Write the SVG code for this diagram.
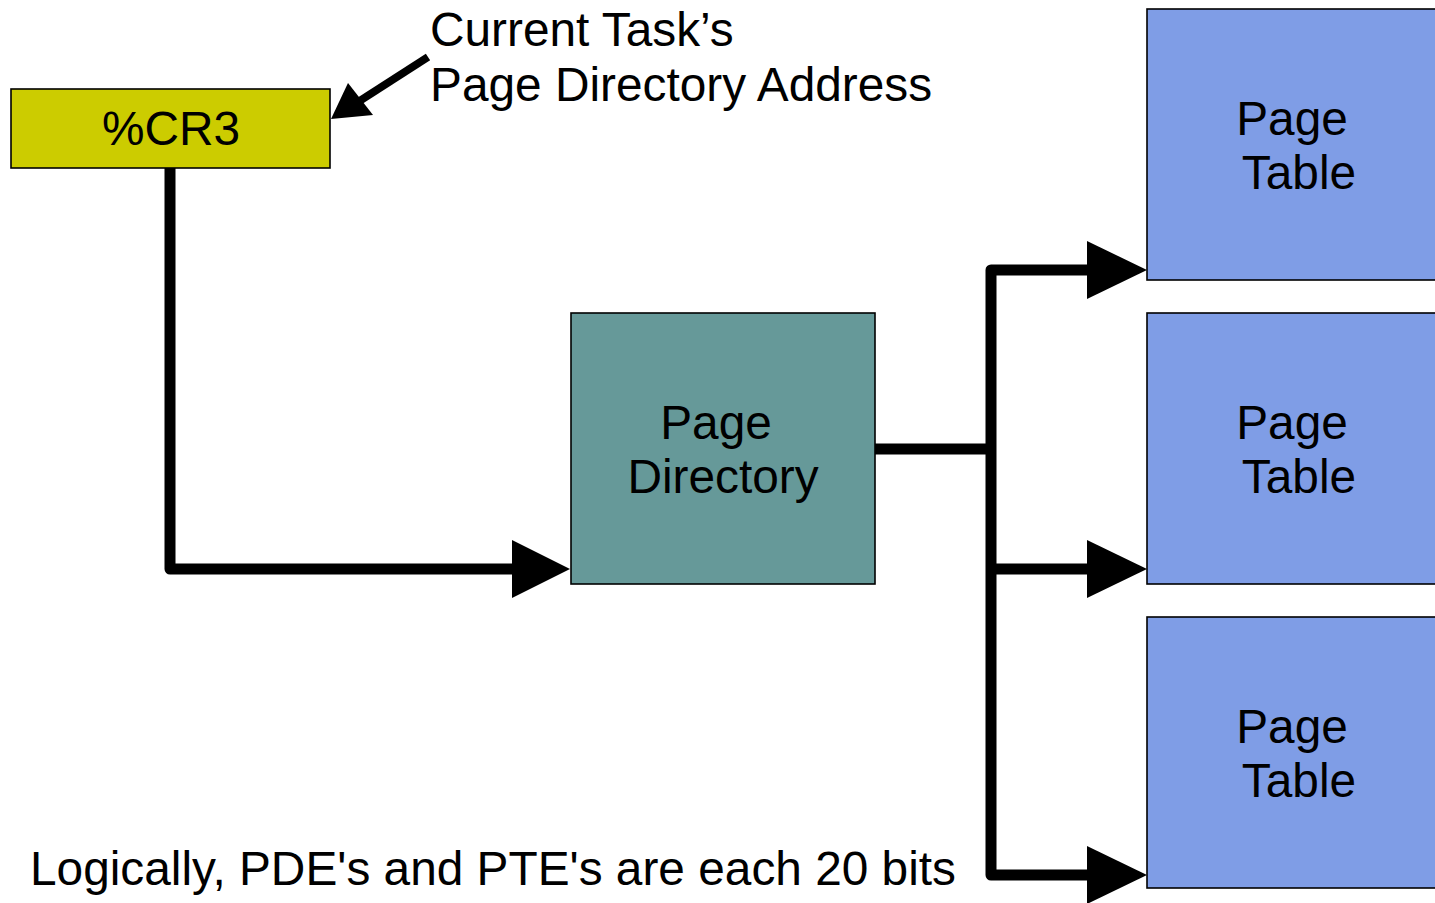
<svg xmlns="http://www.w3.org/2000/svg" width="1435" height="903" viewBox="0 0 1435 903">
<style>
text{font-family:"Liberation Sans",Arial,sans-serif;font-size:47.8px;fill:#000}
.box{stroke:#000;stroke-width:1.6}
.conn{fill:none;stroke:#000;stroke-width:11;stroke-linejoin:round}
</style>
<rect width="1435" height="903" fill="#fff"/>
<g id="connectors">
<path class="conn" d="M170,166 V569 H515" />
<path d="M512,540 L570,569 L512,598 Z" fill="#000"/>
<path class="conn" d="M875,449 H991"/>
<path class="conn" d="M1090,270 H991 V875 H1090"/>
<path class="conn" d="M991,569 H1090"/>
<path d="M1087,241 L1147,270 L1087,299 Z" fill="#000"/>
<path d="M1087,540 L1147,569 L1087,598 Z" fill="#000"/>
<path d="M1087,846 L1147,875 L1087,904 Z" fill="#000"/>
<line x1="428" y1="57" x2="358" y2="102" stroke="#000" stroke-width="8"/>
<path d="M331,119 L348,83 L373,115 Z" fill="#000"/>
</g>
<g id="cr3">
<rect class="box" x="11" y="89" width="319" height="79" fill="#cccc00"/>
<text x="171" y="145" text-anchor="middle">%CR3</text>
</g>
<g id="label-cr3">
<text x="430" y="46">Current Task’s</text>
<text x="430" y="101">Page Directory Address</text>
</g>
<g id="page-directory">
<rect class="box" x="571" y="313" width="304" height="271" fill="#669999"/>
<text x="716" y="439" text-anchor="middle">Page</text>
<text x="723" y="493" text-anchor="middle">Directory</text>
</g>
<g id="page-table-1">
<rect class="box" x="1147" y="9" width="300" height="271" fill="#7f9de6"/>
<text x="1292" y="135" text-anchor="middle">Page</text>
<text x="1299" y="189" text-anchor="middle">Table</text>
</g>
<g id="page-table-2">
<rect class="box" x="1147" y="313" width="300" height="271" fill="#7f9de6"/>
<text x="1292" y="439" text-anchor="middle">Page</text>
<text x="1299" y="493" text-anchor="middle">Table</text>
</g>
<g id="page-table-3">
<rect class="box" x="1147" y="617" width="300" height="271" fill="#7f9de6"/>
<text x="1292" y="743" text-anchor="middle">Page</text>
<text x="1299" y="797" text-anchor="middle">Table</text>
</g>
<g id="note">
<text x="30" y="885">Logically, PDE's and PTE's are each 20 bits</text>
</g>
</svg>
